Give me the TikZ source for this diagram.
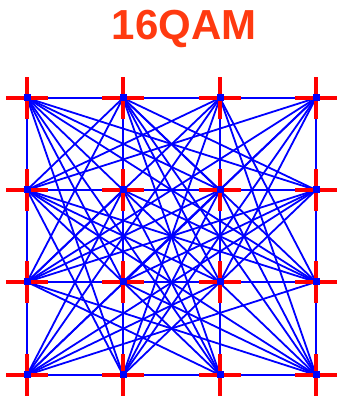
\documentclass[tikz,border=0pt]{standalone}
\usepackage{fontspec}
\setmainfont{Liberation Sans}
\definecolor{qamred}{HTML}{FF3A10}
\definecolor{ptblue}{HTML}{0000FF}
\definecolor{xred}{HTML}{FF0000}

\begin{document}
\begin{tikzpicture}[x=1pt, y=1pt,
  trans/.style={ptblue, line width=1.8pt},
  gridline/.style={ptblue, line width=2pt},
  crossarm/.style={xred, line width=4.5pt},
  dot/.style={fill=ptblue, rectangle, inner sep=0pt, minimum size=7pt}]

% Frame
\useasboundingbox (0,0) rectangle (337,397);

% Title
\node[text=qamred, font=\fontsize{42}{42}\selectfont\bfseries] (title) at (184,368) {16QAM};

% Constellation points: column c, row r (row 1 on top)
\foreach \c/\x in {1/27, 2/123, 3/220, 4/316}
  \foreach \r/\y in {1/299, 2/207, 3/115, 4/22}
    \coordinate (p\c\r) at (\x,\y);

% Grid lines
\foreach \k in {1,...,4} {
  \draw[gridline] (p1\k) -- (p4\k);
  \draw[gridline] (p\k1) -- (p\k4);
}

% Symbol transitions
\foreach \a/\b in {11/44, 11/42, 11/32, 11/43, 11/34, 11/23, 11/24,
                   21/12, 21/13, 21/32, 21/42, 21/43, 21/33, 21/44, 21/34,
                   31/12, 31/13, 31/14, 31/24, 31/43, 31/44,
                   41/12, 41/13, 41/23, 41/14, 41/24, 41/33,
                   12/43, 12/44, 12/33, 12/24, 12/34,
                   22/43, 22/13, 22/34, 32/13, 32/24,
                   42/13, 42/14, 42/23, 42/24,
                   13/34, 13/44, 14/32, 14/43, 14/33, 14/22,
                   44/23, 44/32}
  \draw[trans] (p\a) -- (p\b);

% Markers
\foreach \c in {1,...,4}
  \foreach \r in {1,...,4} {
    \draw[crossarm] ([xshift=-21pt]p\c\r) -- ([xshift=21pt]p\c\r);
    \draw[crossarm] ([yshift=-21pt]p\c\r) -- ([yshift=21pt]p\c\r);
    \node[dot] (d\c\r) at (p\c\r) {};
  }

\end{tikzpicture}
\end{document}
